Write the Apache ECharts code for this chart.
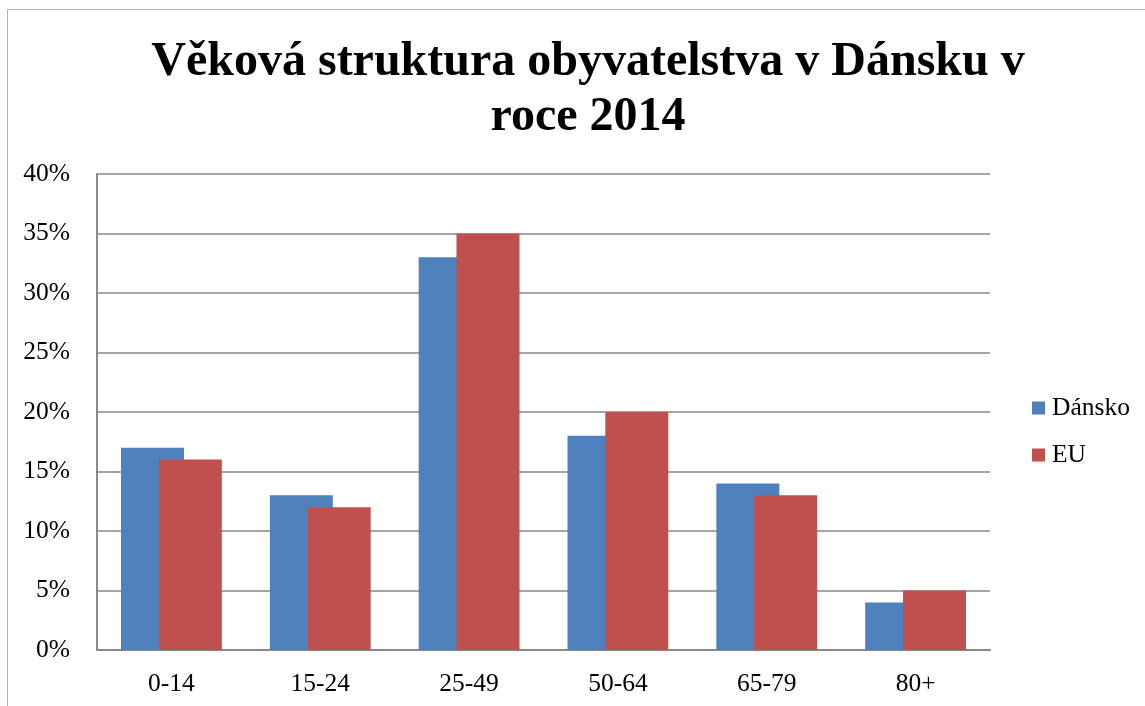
<!DOCTYPE html>
<html>
<head>
<meta charset="utf-8">
<script src="https://cdn.jsdelivr.net/npm/echarts@6/dist/echarts.min.js"></script>
<style>
  html, body { margin: 0; padding: 0; background: #fff; }
  #frame { position: absolute; left: 7px; top: 9px; width: 1200px; height: 760px; border: 1px solid #b4b4b4; }
  #chart { position: absolute; left: 0; top: 0; width: 1145px; height: 706px; }
</style>
</head>
<body>
<div id="frame"></div>
<div id="chart"></div>
<script>
const categories = ['0-14', '15-24', '25-49', '50-64', '65-79', '80+']
const denmark = [17, 13, 33, 18, 14, 4]
const eu = [16, 12, 35, 20, 13, 5]
const yTicks = { min: 0, max: 40, interval: 5 }

const font = 'Liberation Serif, Times New Roman, serif'
const gridColor = '#898989'

const chart = echarts.init(document.getElementById('chart'))
chart.setOption({
  animation: false,
  title: {
    text: 'Věková struktura obyvatelstva v Dánsku v\nroce 2014',
    left: 583,
    top: 30,
    textAlign: 'center',
    textStyle: {
      fontFamily: font,
      fontWeight: 'bold',
      fontSize: 48,
      lineHeight: 55,
      color: '#000'
    }
  },
  legend: {
    orient: 'vertical',
    left: 1027,
    top: 390,
    itemWidth: 13,
    itemHeight: 13,
    itemGap: 21,
    icon: 'rect',
    textStyle: { fontFamily: font, fontSize: 25.5, color: '#000', padding: [0, 0, 0, 2] },
    data: ['Dánsko', 'EU']
  },
  grid: {
    left: 97,
    right: 155,
    top: 174,
    bottom: 56,
    containLabel: false
  },
  xAxis: {
    type: 'category',
    data: categories,
    axisLine: { lineStyle: { color: gridColor, width: 2 } },
    axisTick: { show: false },
    axisLabel: { fontFamily: font, fontSize: 25.5, color: '#000', margin: 21 }
  },
  yAxis: {
    type: 'value',
    min: yTicks.min,
    max: yTicks.max,
    interval: yTicks.interval,
    axisLine: { show: true, lineStyle: { color: gridColor, width: 2 } },
    axisTick: { show: false },
    splitLine: { lineStyle: { color: gridColor, width: 1.5 } },
    axisLabel: { fontFamily: font, fontSize: 25.5, color: '#000', margin: 27, formatter: '{value}%' }
  },
  series: [
    {
      name: 'Dánsko',
      type: 'bar',
      data: denmark,
      barWidth: 63,
      barGap: '-40%',
      itemStyle: { color: '#4f81bd' }
    },
    {
      name: 'EU',
      type: 'bar',
      data: eu,
      barWidth: 63,
      itemStyle: { color: '#c0504d' }
    }
  ]
})
</script>
</body>
</html>
